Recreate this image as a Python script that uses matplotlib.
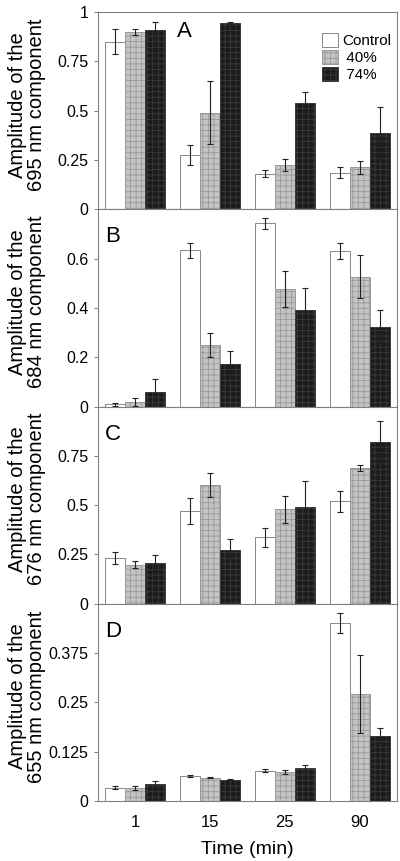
import matplotlib
matplotlib.use("Agg")
import matplotlib.pyplot as plt
import numpy as np

plt.rcParams['font.family'] = ['Liberation Sans', 'DejaVu Sans']
plt.rcParams['hatch.linewidth'] = 0.6

tempos = ['1', '15', '25', '90']
series = ['Control', ' 40%', ' 74%']

# valores: [control, 40%, 74%] por tempo
a_vals = [[0.85, 0.277, 0.181, 0.186], [0.897, 0.49, 0.223, 0.212], [0.907, 0.946, 0.538, 0.386]]
a_errs = [[0.065, 0.05, 0.018, 0.027], [0.015, 0.16, 0.03, 0.035], [0.045, 0.005, 0.055, 0.135]]

b_vals = [[0.009, 0.634, 0.743, 0.63], [0.018, 0.25, 0.476, 0.527], [0.057, 0.172, 0.39, 0.324]]
b_errs = [[0.005, 0.03, 0.022, 0.032], [0.016, 0.05, 0.073, 0.087], [0.055, 0.052, 0.09, 0.069]]

c_vals = [[0.233, 0.471, 0.336, 0.519], [0.198, 0.601, 0.478, 0.689], [0.209, 0.274, 0.492, 0.818]]
c_errs = [[0.03, 0.066, 0.05, 0.052], [0.019, 0.062, 0.07, 0.014], [0.04, 0.052, 0.13, 0.108]]

d_vals = [[0.034, 0.064, 0.0765, 0.451], [0.034, 0.0595, 0.073, 0.271], [0.0425, 0.0536, 0.0825, 0.165]]
d_errs = [[0.004, 0.003, 0.004, 0.026], [0.005, 0.002, 0.005, 0.098], [0.008, 0.001, 0.0085, 0.021]]

paineis = [
    ('A', '695', a_vals, a_errs, 1.0, [0, 0.25, 0.5, 0.75, 1], ['0', '0.25', '0.5', '0.75', '1']),
    ('B', '684', b_vals, b_errs, 0.8, [0, 0.2, 0.4, 0.6], ['0', '0.2', '0.4', '0.6']),
    ('C', '676', c_vals, c_errs, 1.0, [0, 0.25, 0.5, 0.75], ['0', '0.25', '0.5', '0.75']),
    ('D', '655', d_vals, d_errs, 0.5, [0, 0.125, 0.25, 0.375], ['0', '0.125', '0.25', '0.375']),
]

faces = ['white', '#c4c4c4', '#1c1c1c']
hatch_cor = ['#888888', '#999999', '#3a3a3a']
hatches = [None, '+++', '+++']

fig, axs = plt.subplots(4, 1, figsize=(4, 8.61), dpi=100, sharex=True)
fig.subplots_adjust(left=0.245, right=0.9925, top=0.986, bottom=0.0697, hspace=0)

x = np.arange(len(tempos))
w = 0.267
cor_eixo = '#808080'

for ax, (letra, nm, vals, errs, ymax, yt, ytl) in zip(axs, paineis):
    barras = []
    for i in range(3):
        b = ax.bar(x + (i - 1) * w, vals[i], w, color=faces[i], edgecolor=hatch_cor[i],
                   hatch=hatches[i], linewidth=0.7, label=series[i], zorder=2)
        ax.errorbar(x + (i - 1) * w, vals[i], yerr=errs[i], fmt='none', ecolor='#222222',
                    elinewidth=0.8, capsize=2.5, capthick=0.8, zorder=3)
        barras.append(b)
    ax.set_xlim(-0.5, 3.5)
    ax.set_ylim(0, ymax)
    ax.set_yticks(yt)
    ax.set_yticklabels(ytl, fontsize=11.5)
    ax.tick_params(axis='y', direction='out', length=3, width=0.7, color=cor_eixo, pad=4)
    ax.tick_params(axis='x', length=0, labelsize=12, pad=10)
    for s in ax.spines.values():
        s.set_color(cor_eixo)
        s.set_linewidth(0.8)
    ax.set_ylabel('Amplitude of the\n' + nm + ' nm component', fontsize=14.5, linespacing=0.95)
    ax.yaxis.set_label_coords(-0.175, 0.53)
    if letra == 'A':
        ax.text(0.29, 0.9, letra, transform=ax.transAxes, fontsize=16, ha='center', va='center')
        ax.legend(handles=barras, loc='upper left', bbox_to_anchor=(0.725, 0.935), frameon=False,
                  fontsize=11, handlelength=1.05, handleheight=1.1, handletextpad=0.25,
                  labelspacing=0.1, borderpad=0)
    else:
        ax.text(0.05, 0.86, letra, transform=ax.transAxes, fontsize=16, ha='center', va='center')

axs[-1].set_xticks(x)
axs[-1].set_xticklabels(tempos)
axs[-1].set_xlabel('Time (min)', fontsize=14, labelpad=8)

fig.savefig('out.png', dpi=100)
